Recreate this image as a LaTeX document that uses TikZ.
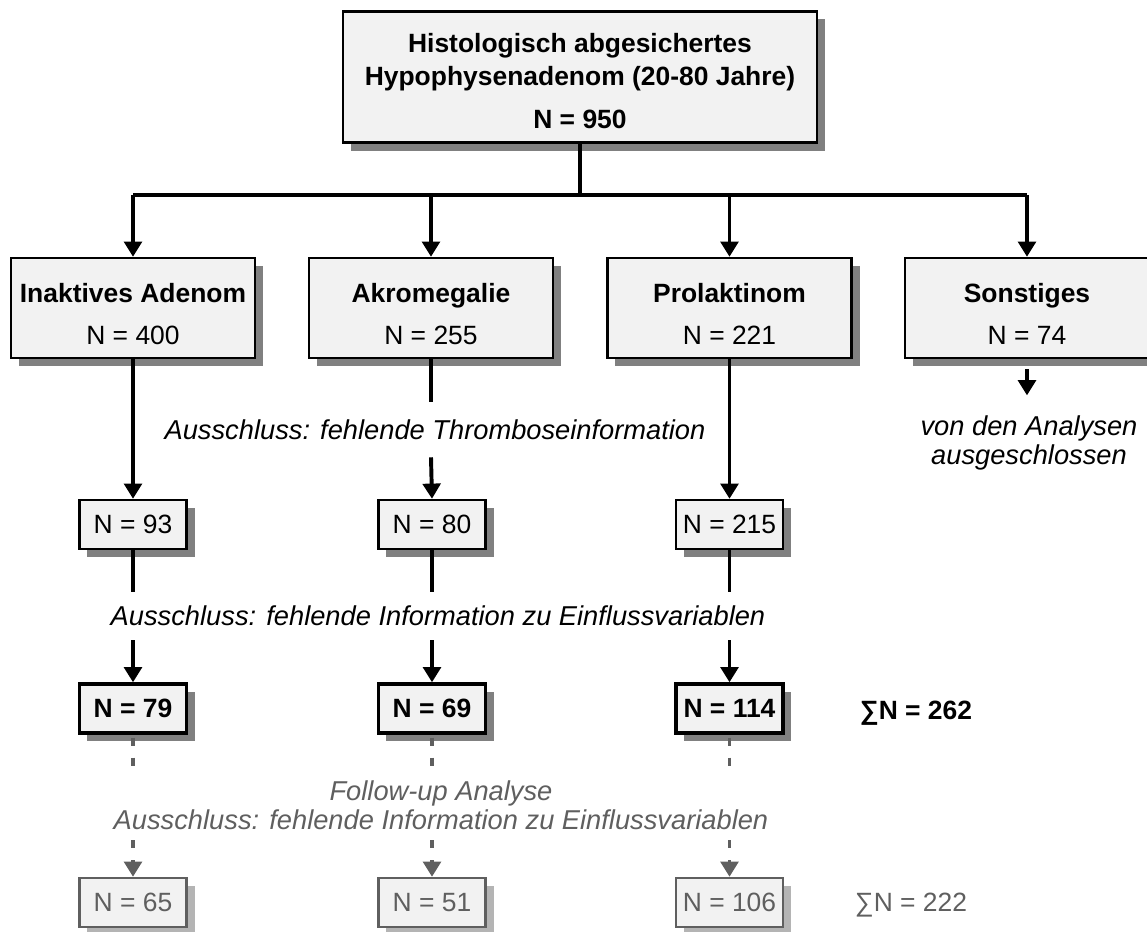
\documentclass[tikz,border=0pt]{standalone}
\usepackage{fontspec}
\setmainfont{Liberation Sans}
\usetikzlibrary{arrows.meta,shadows}
\definecolor{boxfill}{HTML}{F2F2F2}
\definecolor{shadowgray}{HTML}{808080}
\definecolor{fupgray}{HTML}{5F5F5F}
\definecolor{fupshadow}{HTML}{B4B4B4}
\newcommand*\drawGapArrow[4][]{%
    % #2: upper box, #3: lower box, #4: note that cuts the line
    \draw[conn,#1,-] (#2.south) -- (#2.south |- #4.north);
    \draw[conn,#1] (#2.south |- #4.south) -- (#3.north);
}

\begin{document}
\begin{tikzpicture}[x=0.025cm,y=-0.025cm,
    font=\fontsize{18.8}{23.5}\selectfont,
    box/.style={draw,line width=1.7pt,fill=boxfill,align=center,inner sep=0pt,
        drop shadow={shadow xshift=0.2cm,shadow yshift=-0.2cm,fill=#1,opacity=1}},
    box/.default=shadowgray,
    groupbox/.style={box,minimum width=6.1cm,minimum height=2.5cm},
    smallbox/.style={box=#1,minimum width=2.675cm,minimum height=1.225cm},
    smallbox/.default=shadowgray,
    note/.style={font=\fontsize{19.4}{20.8}\selectfont\itshape,inner sep=0pt,align=center},
    conn/.style={line width=2.8pt,-{Triangle[width=0.44cm,length=0.38cm]}},
    follow/.style={fupgray,dash pattern=on 0.2cm off 0.3cm,dash phase=0.425cm}]
    \useasboundingbox (0,0) rectangle (1147,932);
    \node[box,minimum width=11.85cm,minimum height=3.275cm,font=\fontsize{18.8}{23.5}\selectfont\bfseries] (root) at (580,77)
        {\rule{0pt}{19pt}Histologisch abgesichertes\\Hypophysenadenom (20-80 Jahre)\\[7pt]N = 950};
    \foreach \x/\name/\n [count=\i] in {133/Inaktives Adenom/400,431/Akromegalie/255,729.5/Prolaktinom/221,1027/Sonstiges/74}{
        \node[groupbox] (grp-\i) at (\x,308) {\rule{0pt}{22pt}\textbf{\name}\\[6pt]N = \n};
    }
    \foreach \x/\a/\b/\c [count=\i] in {133/93/79/65,432/80/69/51,729.5/215/114/106}{
        \node[smallbox] (sel-\i) at (\x,524.5) {N = \a};
        \node[smallbox,line width=2.4pt] (fin-\i) at (\x,708.5) {\textbf{N = \b}};
        \node[smallbox=fupshadow,draw=fupgray,text=fupgray] (fup-\i) at (\x,902.5) {N = \c};
    }
    \node[note,minimum height=1.375cm] (excl-thromb) at (435,429.5) {Ausschluss: fehlende Thromboseinformation};
    \node[note,minimum height=1.2cm] (excl-info) at (438,616) {Ausschluss: fehlende Information zu Einflussvariablen};
    \node[note,text=fupgray,minimum height=1.6cm] (excl-fup) at (441,805)
        {Follow-up Analyse\\Ausschluss: fehlende Information zu Einflussvariablen};
    \node[note,inner ysep=0.5cm] (excluded) at (1029,443) {von den Analysen\\ausgeschlossen};
    \node[font=\fontsize{18.8}{23.5}\selectfont\bfseries] (sum-fin) at (916,713) {∑N = 262};
    \node[text=fupgray] (sum-fup) at (911,905) {∑N = 222};
    % branching below the root box
    \coordinate (branch) at (580,195);
    \draw[line width=2.8pt] (root.south) -- (branch);
    \draw[line width=2.8pt] (branch -| grp-1.north) -- (branch -| grp-4.north);
    \foreach \i in {1,...,4}{
        \draw[conn] (branch -| grp-\i.north) -- (grp-\i.north);
    }
    \draw[conn] (grp-1.south) -- (sel-1.north);
    \draw[conn] (grp-3.south) -- (sel-3.north);
    \drawGapArrow{grp-2}{sel-2}{excl-thromb}
    \draw[conn,shorten <=0.25cm] (grp-4.south) -- (grp-4.south |- excluded.north);
    \foreach \i in {1,2,3}{
        \drawGapArrow{sel-\i}{fin-\i}{excl-info}
        \drawGapArrow[follow]{fin-\i}{fup-\i}{excl-fup}
    }
\end{tikzpicture}
\end{document}
